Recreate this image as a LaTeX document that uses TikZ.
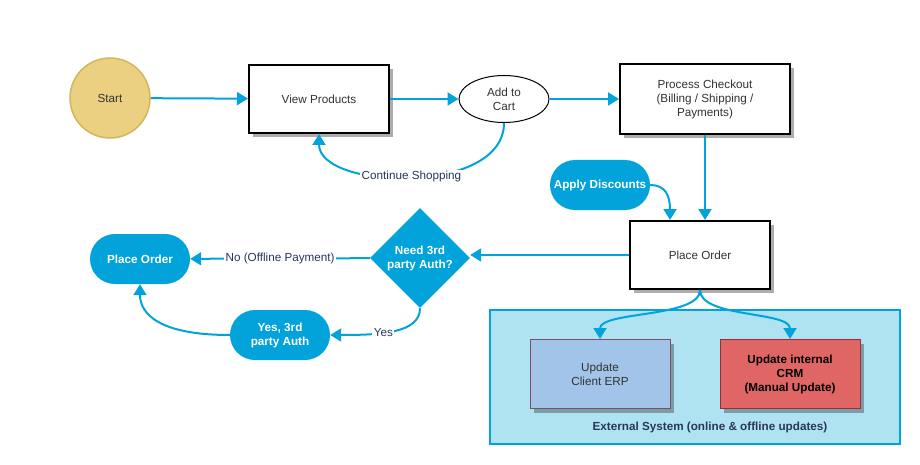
\documentclass[tikz,border=0pt]{standalone}
\usepackage{fontspec}
\setmainfont{Liberation Sans}
\usetikzlibrary{shapes.geometric,shadows,arrows.meta}
\definecolor{flowblue}{RGB}{2,163,218}
\definecolor{startfill}{RGB}{234,208,128}
\definecolor{startline}{RGB}{212,182,90}
\definecolor{extfill}{RGB}{176,227,242}
\definecolor{erpfill}{RGB}{161,196,232}
\definecolor{crmfill}{RGB}{224,102,102}
\definecolor{lblnavy}{RGB}{40,55,88}
\definecolor{txtgray}{RGB}{51,51,51}

\begin{document}
\begin{tikzpicture}[x=1pt, y=1pt, font=\fontsize{11.7}{14}\selectfont,
    arr/.style = {draw=flowblue, line width=2pt, -{Triangle[length=11pt,width=13pt]}},
    main/.style = {draw, line width=2pt, fill=white, text=txtgray, align=center,
        minimum width=140pt, minimum height=68pt,
        drop shadow={shadow xshift=4pt, shadow yshift=-4pt, fill=black, opacity=0.32}},
    pill/.style = {fill=flowblue, text=white, font=\fontsize{11.7}{14}\selectfont\bfseries,
        align=center, rounded corners=25pt, minimum width=100pt, minimum height=50pt},
    sysbox/.style = {draw, line width=1pt, align=center, text=txtgray,
        minimum width=140pt, minimum height=69pt,
        drop shadow={shadow xshift=4pt, shadow yshift=-4pt, fill=black, opacity=0.3}},
    lbl/.style = {fill=white, text=lblnavy, inner sep=1.5pt}]
    \useasboundingbox (0,0) rectangle (920,-465);
    % riquadro del sistema esterno
    \node[draw=flowblue, line width=2pt, fill=extfill, minimum width=410pt, minimum height=134pt] (ext) at (695,-377) {};
    \node[text=lblnavy, font=\fontsize{11.7}{13}\selectfont\bfseries] (extlbl) at (710,-427) {External System (online \& offline updates)};

    \node[circle, draw=startline, line width=1.5pt, fill=startfill, minimum size=80pt, text=txtgray] (start) at (110,-98) {Start};
    \node[main] (view) at (319,-99) {View Products};
    \node[ellipse, draw, line width=1pt, minimum width=90pt, minimum height=47pt, inner sep=0pt, align=center, text=txtgray] (cart) at (504,-99) {Add to\\Cart};
    \node[main, minimum width=170pt, minimum height=70pt] (checkout) at (705,-99) {Process Checkout\\(Billing / Shipping /\\Payments)};
    \node[pill] (discount) at (600,-185) {Apply Discounts};
    \node[main] (order) at (700,-255) {Place Order};
    \node[diamond, fill=flowblue, text=white, font=\fontsize{11.7}{14}\selectfont\bfseries, align=center,
        minimum width=100pt, minimum height=100pt, inner sep=0pt] (auth) at (420,-258) {Need 3rd\\party Auth?};
    \node[pill] (placed) at (140,-259) {Place Order};
    \node[pill] (yesauth) at (280,-335) {Yes, 3rd\\party Auth};
    \node[sysbox, draw={rgb,255:red,125;green,80;blue,100}, fill=erpfill] (erp) at (600,-374) {Update\\Client ERP};
    \node[sysbox, draw={rgb,255:red,150;green,45;blue,55}, fill=crmfill, text=black, font=\fontsize{11.7}{14}\selectfont\bfseries] (crm) at (790,-374) {Update internal\\CRM\\(Manual Update)};

    \draw[arr] (start) -- (view);
    \draw[arr] (view) -- (cart);
    \draw[arr] (cart) -- (checkout);
    \draw[arr] (cart.south) .. controls (504,-196) and (319,-190) .. node[lbl] {Continue Shopping} (view.south);
    \draw[arr] (checkout.south) -- (checkout.south |- order.north);
    \draw[arr] (discount.east) .. controls (665,-185) and (670,-195) .. ([xshift=-30pt]order.north);
    \draw[arr] (order.west) -- (order.west -| auth.east);
    \draw[arr] (auth) -- node[lbl] {No (Offline Payment)} (placed);
    \draw[arr] (auth.south) .. controls +(0,-25) and +(50,0) .. node[lbl, pos=0.6] {Yes} (yesauth.east);
    \draw[arr] (yesauth.west) .. controls +(-70,0) and +(0,-30) .. (placed.south);
    \draw[arr] (order.south) .. controls +(0,-28) and +(0,28) .. (erp.north);
    \draw[arr] (order.south) .. controls +(0,-28) and +(0,28) .. (crm.north);
\end{tikzpicture}
\end{document}
